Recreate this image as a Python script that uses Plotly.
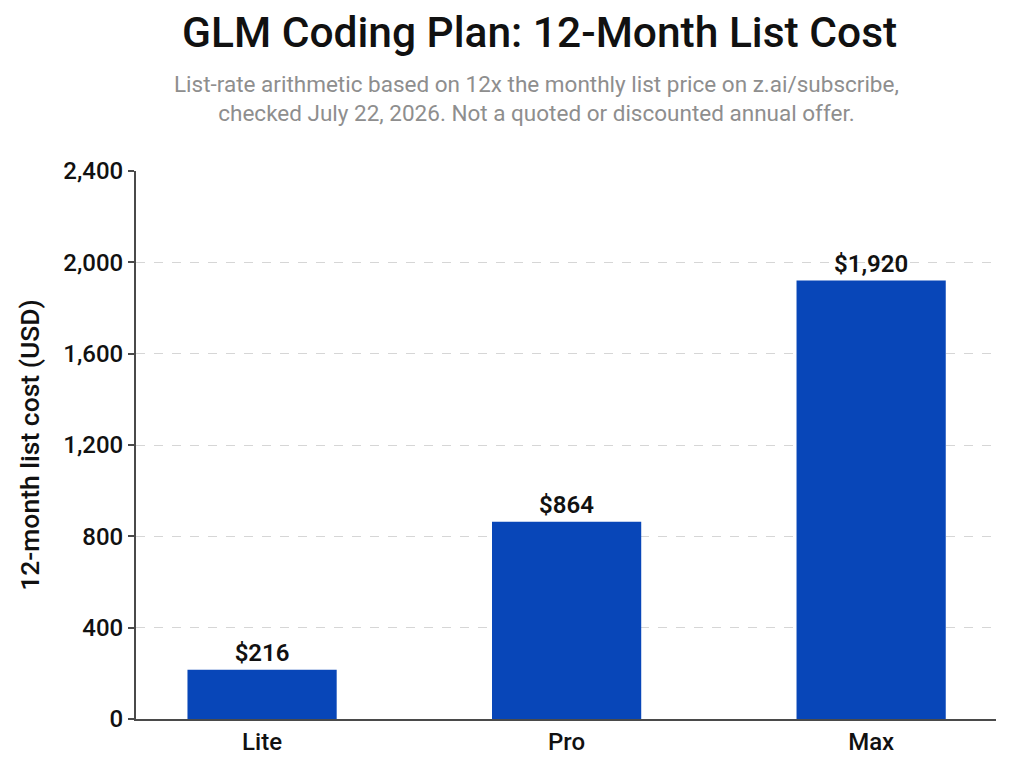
import plotly.graph_objects as go

plans = ["Lite", "Pro", "Max"]
annual_cost = [216, 864, 1920]
cost_labels = ["$216", "$864", "$1,920"]
y_ticks = [0, 400, 800, 1200, 1600, 2000, 2400]
y_tick_text = ["0", "400", "800", "1,200", "1,600", "2,000", "2,400"]

bar_color = "#0846B8"
font = "Roboto, 'Noto Sans', sans-serif"
dark = "#111111"

fig = go.Figure(go.Bar(
    x=plans, y=annual_cost, text=cost_labels, textposition="outside",
    textfont=dict(family=font, size=24, color=dark, weight=600),
    marker=dict(color=bar_color, line=dict(width=0)),
    width=0.49, cliponaxis=False,
))

fig.update_layout(
    width=1024, height=768,
    margin=dict(l=136, r=28, t=171, b=49),
    paper_bgcolor="white", plot_bgcolor="white",
    font=dict(family=font, color=dark),
    showlegend=False,
)

plot_h = 768 - 171 - 49
def py(pix):
    return (768 - 49 - pix) / plot_h

fig.add_annotation(text="GLM Coding Plan: 12-Month List Cost", x=0.5, y=py(33),
                   xref="paper", yref="paper", showarrow=False, yanchor="middle",
                   xanchor="center", xshift=-27,
                   font=dict(size=42.5, color=dark, family=font, weight=500))
fig.add_annotation(text="List-rate arithmetic based on 12x the monthly list price on z.ai/subscribe,<br>checked July 22, 2026. Not a quoted or discounted annual offer.",
                   x=0.5, y=py(99), xref="paper", yref="paper", showarrow=False,
                   yanchor="middle", xanchor="center", xshift=-30,
                   font=dict(size=22.5, color="#8E8E8E", family=font))

fig.update_yaxes(
    range=[0, 2400], tickvals=y_ticks, ticktext=y_tick_text,
    tickfont=dict(size=24, color=dark, family=font, weight=500),
    showgrid=True, gridcolor="#D6D6D6", griddash="dash", gridwidth=1,
    showline=True, linecolor="#4A4A4A", linewidth=2,
    ticks="outside", ticklen=6, tickcolor="#4A4A4A", tickwidth=2,
    zeroline=False,
    title=dict(text="12-month list cost (USD)", font=dict(size=26.5, color=dark, family=font, weight=500), standoff=16),
)
fig.update_xaxes(
    range=[-0.414, 2.41],
    tickfont=dict(size=24, color=dark, family=font, weight=500),
    showline=True, linecolor="#4A4A4A", linewidth=2, ticks="", showgrid=False,
)

fig.write_html("out.html")
